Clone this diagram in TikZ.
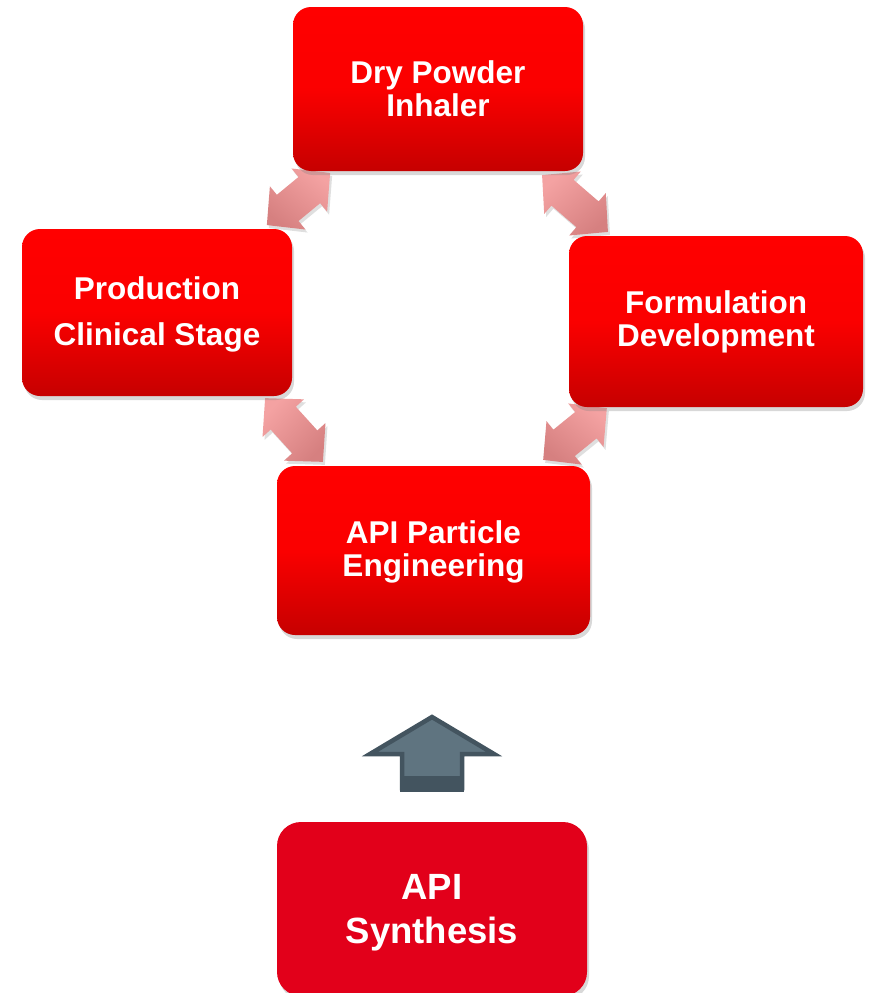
\documentclass[tikz,border=0pt]{standalone}
\usepackage{fontspec}
\setmainfont{Liberation Sans}
\usetikzlibrary{shadows}
\definecolor{boxtop}{RGB}{255,0,0}
\definecolor{boxbot}{RGB}{198,0,0}
\definecolor{synred}{RGB}{226,0,26}
\definecolor{arrtop}{RGB}{244,162,162}
\definecolor{arrbot}{RGB}{214,128,128}
\definecolor{upfill}{RGB}{95,116,128}
\definecolor{updark}{RGB}{67,84,95}
\tikzset{
  redbox/.style={rectangle, rounded corners=18pt, top color=boxtop, bottom color=boxbot,
    middle color=boxtop!92!boxbot,
    drop shadow={opacity=0.3, shadow xshift=2pt, shadow yshift=-4pt},
    text=white, font=\bfseries\fontsize{31.5}{33}\selectfont, align=center, inner sep=0pt},
  synbox/.style={rectangle, rounded corners=24pt, fill=synred,
    drop shadow={opacity=0.3, shadow xshift=2pt, shadow yshift=-4pt},
    text=white, font=\bfseries\fontsize{36.5}{44}\selectfont, align=center, inner sep=0pt},
  boxtext/.style={text=white, align=center, inner sep=0pt},
  fatarrow/.style={top color=arrtop, bottom color=arrbot, draw=none,
    drop shadow={opacity=0.25, shadow xshift=2pt, shadow yshift=-3pt}},
}
\newcommand{\dblarrow}[3]{% coordinate name, rotation, half length
  \begin{scope}[shift={(#1)}, rotate=#2]
    \path[fatarrow, shading angle=-#2]
      (-#3,0) -- (-#3+27,28) -- (-#3+27,17) -- (#3-27,17) -- (#3-27,28) -- (#3,0)
      -- (#3-27,-28) -- (#3-27,-17) -- (-#3+27,-17) -- (-#3+27,-28) -- cycle;
  \end{scope}}
\begin{document}
\begin{tikzpicture}[x=1pt, y=-1pt]
\useasboundingbox (0,0) rectangle (871,993);
\fill[white] (0,0) rectangle (871,993);

% arrows between boxes (drawn first)
\coordinate (a1) at (298.5,199);
\coordinate (a2) at (575,203.5);
\coordinate (a3) at (294,430);
\coordinate (a4) at (575,434);
\dblarrow{a1}{39.5}{41}
\dblarrow{a2}{-40.8}{43.5}
\dblarrow{a3}{-47.8}{43}
\dblarrow{a4}{39.1}{41}

% boxes
\node[redbox, minimum width=290pt, minimum height=164pt] (dpi) at (438,89) {Dry Powder\\Inhaler};
\node[redbox, minimum width=270pt, minimum height=167pt] (pcs) at (157,312.5) {};
\node[boxtext, font=\bfseries\fontsize{31.5}{46}\selectfont] (pcstext) at (157,314.5) {Production\\Clinical Stage};
\node[redbox, minimum width=294pt, minimum height=171pt] (fd) at (716,321.5) {Formulation\\Development};
\node[redbox, minimum width=313pt, minimum height=169pt] (ape) at (433.5,550.5) {};
\node[boxtext, font=\bfseries\fontsize{31.5}{33}\selectfont] (apetext) at (433.5,551.5) {API Particle\\Engineering};
\node[synbox, minimum width=310pt, minimum height=174pt] (syn) at (432,909) {};
\node[boxtext, font=\bfseries\fontsize{36.5}{44}\selectfont] (syntext) at (432,913) {API\\Synthesis};

% up arrow
\coordinate (uptip) at (432,717);
\filldraw[fill=upfill, draw=updark, line width=4.5pt, line join=miter]
  (uptip) -- (494,754) -- (462,754) -- (462,788) -- (402,788) -- (402,754) -- (370,754) -- cycle;
\fill[updark] (400,776) rectangle (464,792);
\end{tikzpicture}
\end{document}
